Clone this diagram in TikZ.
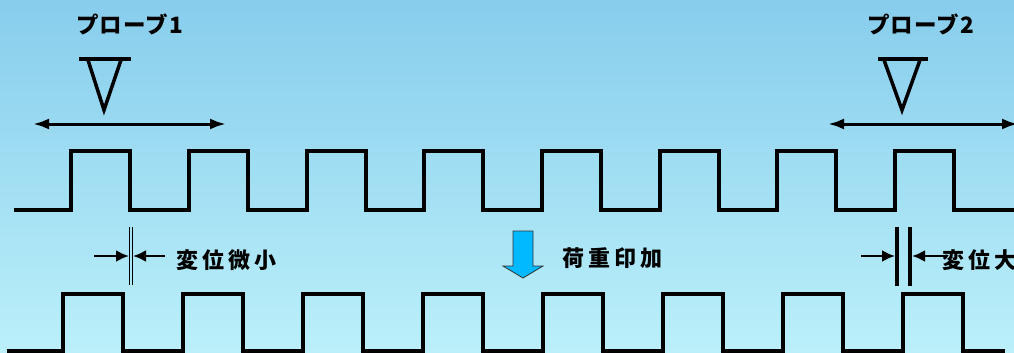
\documentclass[tikz,border=0pt]{standalone}
\usepackage{fontspec}
\newfontfamily\jp[LetterSpace=5]{Noto Sans CJK JP}
\newfontfamily\jpsp[LetterSpace=18]{Noto Sans CJK JP}
\usetikzlibrary{arrows.meta}
\definecolor{bgtop}{RGB}{135,205,236}
\definecolor{bgbot}{RGB}{187,240,250}
\definecolor{loadblue}{RGB}{0,185,255}
\tikzset{
  wave/.style={line width=4pt, line join=miter, black},
  probebar/.style={line width=3.5pt, black},
  scanarrow/.style={line width=3pt, {Latex[length=16pt,width=11pt]}-{Latex[length=16pt,width=11pt]}},
  dispar/.style={line width=2.5pt, -{Latex[length=13pt,width=12pt]}},
  label/.style={inner sep=0pt, font=\jp\bfseries\fontsize{22.5}{22.5}\selectfont},
  blabel/.style={inner sep=0pt, font=\jpsp\bfseries\fontsize{22}{22}\selectfont},
}
\begin{document}
\begin{tikzpicture}[x=1pt,y=-1pt]
\useasboundingbox (0,0) rectangle (1014,353);
\shade[top color=bgtop, bottom color=bgbot] (0,0) rectangle (1014,353);
\begin{scope}
\clip (0,0) rectangle (1014,353);
% top waveform
\draw[wave] (14,210)
  \foreach \r in {71,189,307,424,542,660,777,895} { -- (\r,210) -- (\r,151) -- ({\r+59},151) -- ({\r+59},210) }
  -- (1014,210);
% bottom waveform
\draw[wave] (7,351)
  \foreach \r in {63,183,303,423,543,663,783,903} { -- (\r,351) -- (\r,294) -- ({\r+60},294) -- ({\r+60},351) }
  -- (1005,351);
% probe 1
\node[label, anchor=west] (p1) at (76,24) {プローブ1};
\draw[probebar] (79,59) -- (131,59);
\draw[probebar, line join=miter] (88,60) -- (104,110) -- (121,60);
\coordinate (a1l) at (33,124);
\coordinate (a1r) at (226,124);
\draw[scanarrow] (a1l) -- (a1r);
% probe 2
\node[label, anchor=west] (p2) at (867,24) {プローブ2};
\draw[probebar] (878,59) -- (928,59);
\draw[probebar, line join=miter] (884,60) -- (902,110) -- (920,60);
\coordinate (a2l) at (828,124);
\coordinate (a2r) at (1018,124);
\draw[scanarrow] (a2l) -- (a2r);
% small displacement
\draw[line width=1pt] (129.5,227) -- (129.5,285);
\draw[line width=1pt] (132.5,227) -- (132.5,285);
\coordinate (s1) at (94,256);
\coordinate (s1t) at (129,256);
\coordinate (s2) at (165,256);
\coordinate (s2t) at (133,256);
\draw[dispar] (s1) -- (s1t);
\draw[dispar] (s2) -- (s2t);
\node[blabel, anchor=west] (small) at (176,260) {変位微小};
% load arrow
\draw[fill=loadblue, draw=black!80, line width=0.8pt, line join=miter]
  (513,231) -- (533,231) -- (533,266) -- (543,266) -- (523,278) -- (503,266) -- (513,266) -- cycle;
\node[blabel, anchor=west] (load) at (562,258) {荷重印加};
% large displacement
\draw[line width=4pt] (897,227) -- (897,286);
\draw[line width=4pt] (910,227) -- (910,286);
\coordinate (b1) at (861,256);
\coordinate (b1t) at (895,256);
\coordinate (b2) at (945,256);
\coordinate (b2t) at (912,256);
\draw[dispar] (b1) -- (b1t);
\draw[dispar] (b2) -- (b2t);
\node[blabel, anchor=west] (large) at (942,260) {変位大};
\end{scope}
\end{tikzpicture}
\end{document}
